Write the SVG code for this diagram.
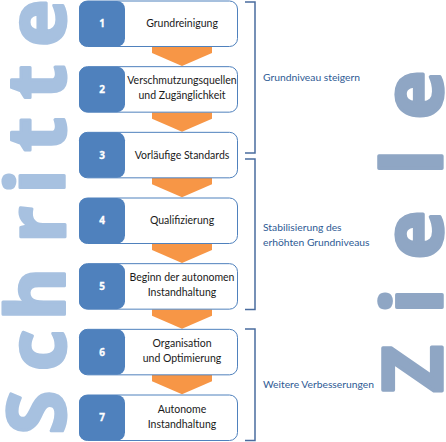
<svg xmlns="http://www.w3.org/2000/svg" width="446" height="442" viewBox="0 0 446 442">
<style>
.big1{font-family:"Noto Sans","DejaVu Sans",sans-serif;font-weight:700;font-size:80px;fill:#A7C1E0;stroke:#A7C1E0;stroke-width:3;stroke-linejoin:round;text-anchor:middle}
.big2{font-family:"Noto Sans","DejaVu Sans",sans-serif;font-weight:700;font-size:82px;fill:#8FA6C4;stroke:#8FA6C4;stroke-width:3.5;stroke-linejoin:round;text-anchor:middle}
.box{fill:#FFFFFF;stroke:#4F81BD;stroke-width:1}
.num{fill:#4F81BD}
.nt{font-family:"Noto Sans","DejaVu Sans",sans-serif;font-weight:700;font-size:10px;fill:#FFFFFF;stroke:#FFFFFF;stroke-width:0.3;text-anchor:middle}
.bt{font-family:Lato,"Open Sans",sans-serif;font-size:10.5px;fill:#1A1A1A;text-anchor:middle}
.arr{fill:#F79646}
.br{fill:none;stroke:#4A6C9E;stroke-width:1.5}
.lb{font-family:Lato,"Open Sans",sans-serif;font-size:10.3px;fill:#2E5A94}
</style>
<g id="bigtext">
<text class="big1" transform="rotate(-90)" y="64.5" x="-412.5 -350.5 -294 -224.5 -181.5 -134.5 -82 -23">Schritte</text>
<text class="big2" transform="rotate(-90)" y="442" x="-369 -301 -235 -162 -95">Ziele</text>
</g>
<g id="connectors">
<polygon class="arr" points="152,46.5 212,46.5 212,53 182,66 152,53"/>
<polygon class="arr" points="152,112.2 212,112.2 212,118.7 182,131.7 152,118.7"/>
<polygon class="arr" points="152,177.8 212,177.8 212,184.3 182,197.3 152,184.3"/>
<polygon class="arr" points="152,243.5 212,243.5 212,250 182,263 152,250"/>
<polygon class="arr" points="152,309.2 212,309.2 212,315.7 182,328.7 152,315.7"/>
<polygon class="arr" points="152,374.8 212,374.8 212,381.3 182,394.3 152,381.3"/>
</g>
<g id="node1">
<rect class="box" x="79.5" y="1" width="158" height="45.5" rx="8"/>
<rect class="num" x="79" y="1" width="46" height="45.5" rx="8"/>
<text class="nt" x="102" y="27.3">1</text>
<text class="bt" x="182" y="27.3">Grundreinigung</text>
</g>
<g id="node2">
<rect class="box" x="79.5" y="66.67" width="158" height="45.5" rx="8"/>
<rect class="num" x="79" y="66.67" width="46" height="45.5" rx="8"/>
<text class="nt" x="102" y="93">2</text>
<text class="bt" x="182" y="84.2">Verschmutzungsquellen</text>
<text class="bt" x="182" y="99.2">und Zugänglichkeit</text>
</g>
<g id="node3">
<rect class="box" x="79.5" y="132.33" width="158" height="45.5" rx="8"/>
<rect class="num" x="79" y="132.33" width="46" height="45.5" rx="8"/>
<text class="nt" x="102" y="158.6">3</text>
<text class="bt" x="182" y="158.6">Vorläufige Standards</text>
</g>
<g id="node4">
<rect class="box" x="79.5" y="198" width="158" height="45.5" rx="8"/>
<rect class="num" x="79" y="198" width="46" height="45.5" rx="8"/>
<text class="nt" x="102" y="224.3">4</text>
<text class="bt" x="182" y="224.3">Qualifizierung</text>
</g>
<g id="node5">
<rect class="box" x="79.5" y="263.67" width="158" height="45.5" rx="8"/>
<rect class="num" x="79" y="263.67" width="46" height="45.5" rx="8"/>
<text class="nt" x="102" y="290">5</text>
<text class="bt" x="182" y="281.2">Beginn der autonomen</text>
<text class="bt" x="182" y="296.2">Instandhaltung</text>
</g>
<g id="node6">
<rect class="box" x="79.5" y="329.33" width="158" height="45.5" rx="8"/>
<rect class="num" x="79" y="329.33" width="46" height="45.5" rx="8"/>
<text class="nt" x="102" y="355.6">6</text>
<text class="bt" x="182" y="346.8">Organisation</text>
<text class="bt" x="182" y="361.8">und Optimierung</text>
</g>
<g id="node7">
<rect class="box" x="79.5" y="395" width="158" height="45.5" rx="8"/>
<rect class="num" x="79" y="395" width="46" height="45.5" rx="8"/>
<text class="nt" x="102" y="421.3">7</text>
<text class="bt" x="182" y="412.5">Autonome</text>
<text class="bt" x="182" y="427.5">Instandhaltung</text>
</g>
<g id="brackets">
<polyline class="br" points="245,2 255,2 255,153 245,153"/>
<polyline class="br" points="245,159 255,159 255,309.5 245,309.5"/>
<polyline class="br" points="245,329 255,329 255,440.5 245,440.5"/>
<text class="lb" x="263" y="81">Grundniveau steigern</text>
<text class="lb" x="263" y="231">Stabilisierung des</text>
<text class="lb" x="263" y="245.5">erhöhten Grundniveaus</text>
<text class="lb" x="263" y="388">Weitere Verbesserungen</text>
</g>
</svg>
